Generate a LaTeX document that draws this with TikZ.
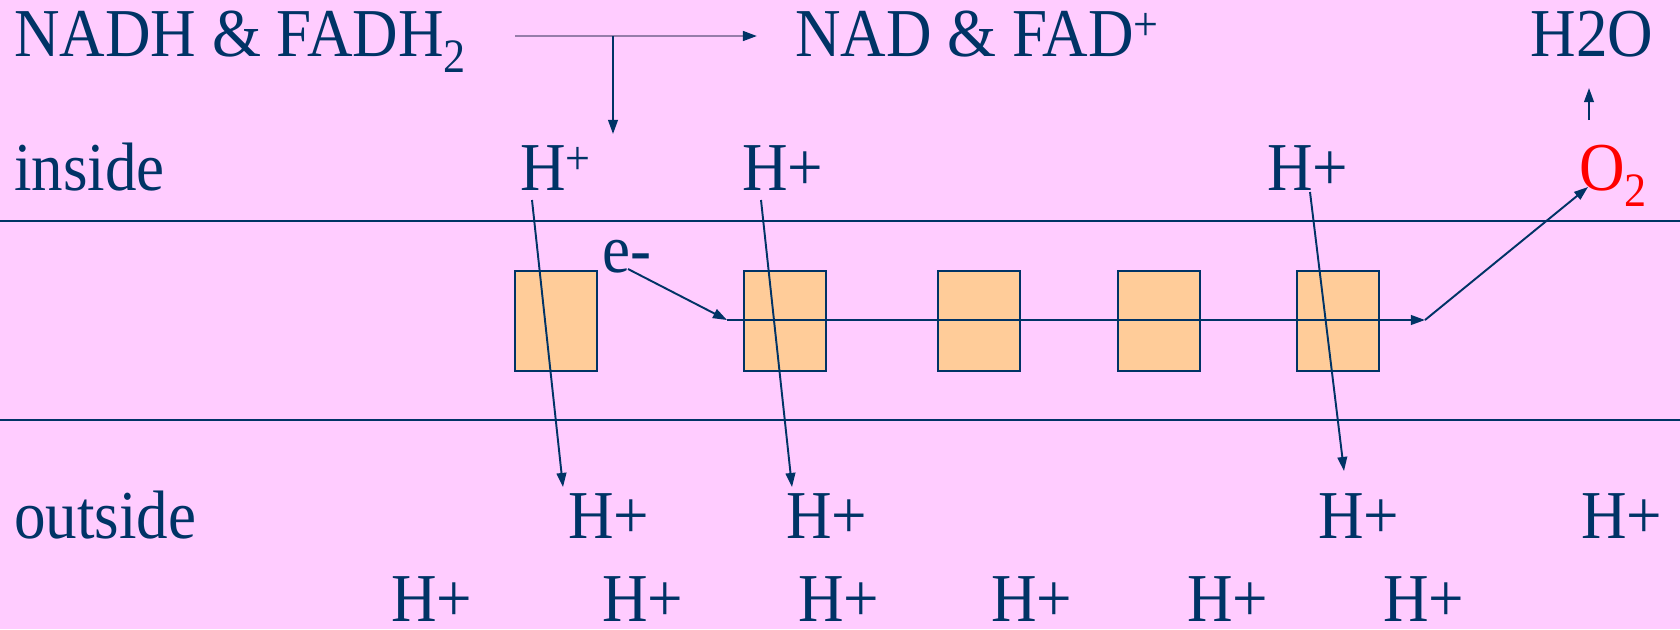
\documentclass[tikz,border=0pt]{standalone}
\usepackage{fontspec}
\setmainfont{Liberation Serif}[FakeStretch=0.92]
\usepackage{tikz}
\usetikzlibrary{arrows.meta, positioning, calc}

\definecolor{bgpink}{RGB}{255,204,255}
\definecolor{navy}{RGB}{0,51,102}
\definecolor{boxfill}{RGB}{255,204,153}
\definecolor{greyline}{RGB}{150,125,170}

\begin{document}
\begin{tikzpicture}[x=0.02cm, y=-0.02cm,
    txt/.style={text=navy, font=\fontsize{39}{47}\selectfont, inner sep=0pt, anchor=base west},
    arr/.style={navy, line width=1.1pt, -{Triangle[length=8pt, width=5.5pt]}},
    carrier/.style={draw=navy, fill=boxfill, line width=1.1pt, minimum width=1.64cm, minimum height=2cm, inner sep=0pt}]
    \fill[bgpink] (0,0) rectangle (1680,629);
    \useasboundingbox (0,0) rectangle (1680,629);

    % membrane
    \draw[navy, line width=1.3pt] (0,221) -- (1680,221);
    \draw[navy, line width=1.3pt] (0,420) -- (1680,420);
    \node[carrier] (c1) at (556,321) {};
    \node[carrier] (c2) at (785,321) {};
    \node[carrier] (c3) at (979,321) {};
    \node[carrier] (c4) at (1159,321) {};
    \node[carrier] (c5) at (1338,321) {};

    % top row
    \node[txt] (nadh) at (14,56) {NADH \& FADH\textsubscript{2}};
    \node[txt] (nad) at (795,56) {NAD \& FAD\textsuperscript{+}};
    \node[txt, anchor=base] (water) at (1592,56) {H2O};

    % inside
    \node[txt] (inside) at (14,190) {inside};
    \node[txt] (hin1) at (520,190) {H\textsuperscript{+}};
    \node[txt] (hin2) at (742,190) {H+};
    \node[txt] (hin3) at (1267,190) {H+};
    \node[txt, text=red] (oxy) at (1579,190) {O\textsubscript{2}};
    \node[txt] (elec) at (602,272) {e-};

    % outside
    \node[txt] (outside) at (14,538) {outside};
    \node[txt] (hout1) at (568,538) {H+};
    \node[txt] (hout2) at (786,538) {H+};
    \node[txt] (hout3) at (1318,538) {H+};
    \node[txt] (hout4) at (1581,538) {H+};
    \foreach \x [count=\i] in {391,602,798,991,1187,1383}
        \node[txt] (hlow\i) at (\x,621) {H+};

    % arrow ends
    \coordinate (tsplit) at (613,36);
    \coordinate (tstart) at (515,36);
    \coordinate (tend) at (757,36);
    \coordinate (tdown) at (613,134);
    \coordinate (estart) at (628,269);
    \coordinate (e0) at (727,320);
    \coordinate (e1) at (1425,320);
    \coordinate (o2tip) at (1588,187);
    \coordinate (wbot) at (1589,120);
    \coordinate (wtop) at (1589,88);
    \coordinate (p1a) at (532,200);
    \coordinate (p1b) at (563,487);
    \coordinate (p2a) at (761,200);
    \coordinate (p2b) at (792,487);
    \coordinate (p3a) at (1310,192);
    \coordinate (p3b) at (1344,471);

    \draw[greyline, line width=1.3pt, -{Triangle[length=8pt, width=5.5pt, color=navy]}] (tstart) -- (tend);
    \draw[arr] (tsplit) -- (tdown);
    \draw[arr] (estart) -- (e0);
    \draw[arr] (e0) -- (e1);
    \draw[arr] (e1) -- (o2tip);
    \draw[arr] (wbot) -- (wtop);
    \draw[arr] (p1a) -- (p1b);
    \draw[arr] (p2a) -- (p2b);
    \draw[arr] (p3a) -- (p3b);
\end{tikzpicture}
\end{document}
